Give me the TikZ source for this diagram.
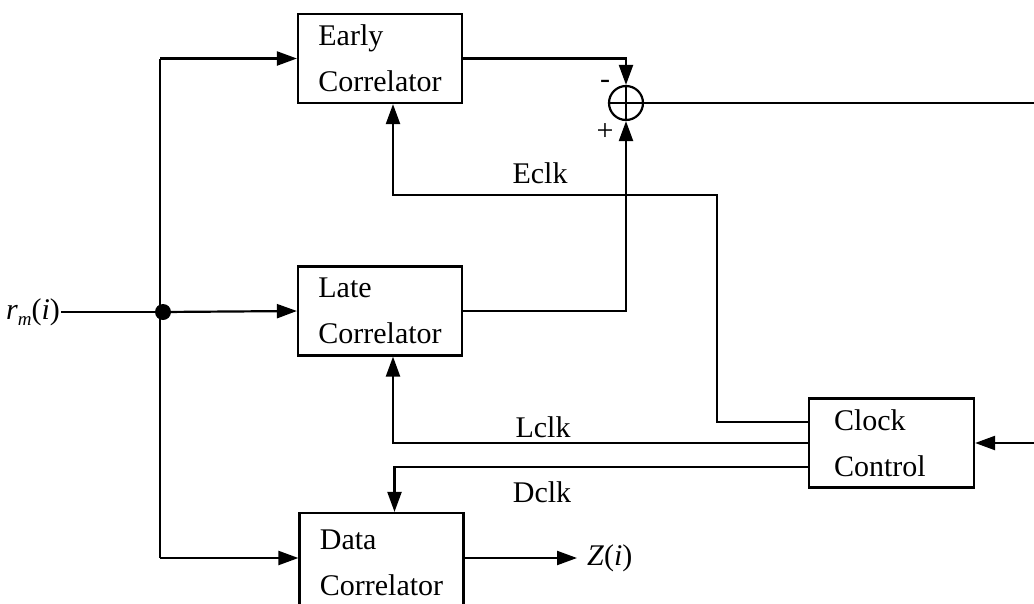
\documentclass[tikz,border=0pt]{standalone}
\usepackage{fontspec}
\setmainfont{Liberation Serif}
\usetikzlibrary{arrows.meta}
\begin{document}
\begin{tikzpicture}[x=1pt,y=-1pt,
  line width=2.2pt,
  arr/.style={-{Triangle[length=20pt,width=14pt]}},
  blk/.style={draw, rectangle, minimum width=164pt, minimum height=89pt,
    align=left, font=\fontsize{30}{46}\selectfont},
  lbl/.style={font=\fontsize{30}{34}\selectfont, inner sep=0pt},
  sumc/.style={draw, circle, minimum size=34pt, inner sep=0pt,
    path picture={\draw[line width=2.2pt] (path picture bounding box.north) -- (path picture bounding box.south)
      (path picture bounding box.west) -- (path picture bounding box.east);}}
]
\useasboundingbox (0,0) rectangle (1034,603);

\node[blk] (early) at (380,58.5) {Early\\Correlator};
\node[blk] (late) at (380,311) {Late\\Correlator};
\node[blk, minimum height=99pt] (data) at (381.5,562.5) {Data\\Correlator};
\node[blk, minimum width=165pt, text width=115pt, inner xsep=25pt] (clock) at (891.5,443) {Clock\\Control};
\node[sumc] (sum) at (626,103) {};

\node[lbl, anchor=east] (rin) at (61,312) {\textit{r}\raisebox{-6pt}{\fontsize{19}{20}\selectfont\textit{m}}(\textit{i})};
\fill (163,312) circle (8pt);
\coordinate (junc) at (163,312);
\coordinate (top) at (160,58.5);
\coordinate (bot) at (160,558);
\coordinate (rightout) at (1034,103);
\coordinate (rightin) at (1034,443);
\coordinate (zend) at (577,558);
\node[lbl, anchor=west] (zout) at (586,558) {\textit{Z}(\textit{i})};

% input bus
\draw (rin.east) -- (junc);
\draw[arr] (junc) -- (late.west);
\draw (top) -- (bot);
\draw[arr] (top) -- (early.west);
\draw[arr] (bot) -- (data.west |- bot);

% correlator outputs to summer
\draw[arr] (early.east) -| (sum.north);
\draw[arr] (late.east) -| (sum.south);
\draw (sum.east) -- (rightout);
\node[lbl] (minus) at (605,84) {-};
\node[lbl] (plus) at (605,132) {+};

% data output
\draw[arr] (data.east |- bot) -- (zend);

% clock lines
\draw[arr] ([yshift=21pt]clock.west) -| (717,195) -| ([xshift=13pt]early.south);
\draw[arr] (clock.west) -| ([xshift=13pt]late.south);
\draw[arr] ([yshift=-24pt]clock.west) -| ([xshift=13pt]data.north);
\draw[arr] (rightin) -- (clock.east);

\node[lbl] (eclk) at (540,173) {Eclk};
\node[lbl] (lclk) at (543,427) {Lclk};
\node[lbl] (dclk) at (542,492) {Dclk};
\end{tikzpicture}
\end{document}
